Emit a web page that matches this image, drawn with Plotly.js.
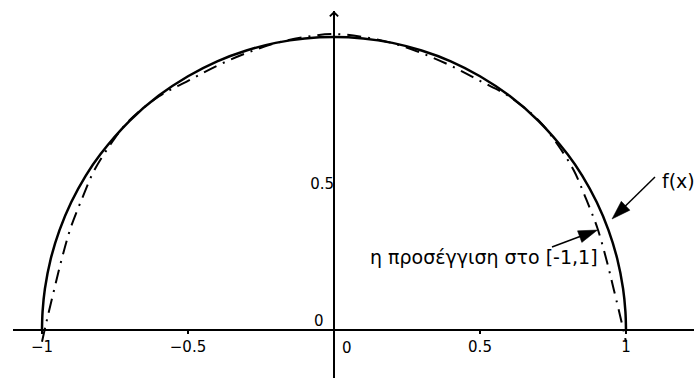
<!DOCTYPE html>
<html>
<head>
<meta charset="utf-8">
<script src="https://cdn.plot.ly/plotly-3.0.1.min.js"></script>
<style>
  html, body { margin: 0; padding: 0; background: #fff; }
  #chart { width: 694px; height: 378px; }
</style>
</head>
<body>
<div id="chart"></div>
<script>
// f(x): the upper unit semicircle
const circleX = [-1, -0.998, -0.99, -0.97, -0.94, -0.9, -0.85, -0.8, -0.7, -0.6, -0.5, -0.4, -0.3, -0.2, -0.1, 0,
                 0.1, 0.2, 0.3, 0.4, 0.5, 0.6, 0.7, 0.8, 0.85, 0.9, 0.94, 0.97, 0.99, 0.998, 1];
const circleY = [0, 0.063, 0.141, 0.243, 0.341, 0.436, 0.527, 0.6, 0.714, 0.8, 0.866, 0.917, 0.954, 0.98, 0.995, 1,
                 0.995, 0.98, 0.954, 0.917, 0.866, 0.8, 0.714, 0.6, 0.527, 0.436, 0.341, 0.243, 0.141, 0.063, 0];

// polynomial approximation on [-1,1]
const approxX = [-1, -0.984, -0.959, -0.933, -0.902, -0.863, -0.821, -0.765, -0.705, -0.6, -0.5, -0.4, -0.3, -0.2, -0.1, 0,
                 0.1, 0.2, 0.3, 0.4, 0.5, 0.6, 0.705, 0.765, 0.821, 0.863, 0.902, 0.933, 0.959, 0.984, 1];
const approxY = [-0.04, 0.031, 0.135, 0.24, 0.348, 0.448, 0.545, 0.634, 0.711, 0.797, 0.85, 0.902, 0.945, 0.979, 1.0, 1.01,
                 1.0, 0.979, 0.945, 0.902, 0.85, 0.797, 0.711, 0.634, 0.545, 0.448, 0.348, 0.24, 0.135, 0.031, -0.04];

// tick labels
const xTickVals = [-1, -0.5, 0.5, 1];
const xTickText = ['\u22121', '\u22120.5', '0.5', '1'];
const yTickVals = [0.5];
const yTickText = ['0.5'];

// callout labels
const curveLabel = 'f(x)';
const approxLabel = '\u03b7 \u03c0\u03c1\u03bf\u03c3\u03ad\u03b3\u03b3\u03b9\u03c3\u03b7 \u03c3\u03c4\u03bf [-1,1]';

const FONT = 'DejaVu Sans, Verdana, sans-serif';
const TICK_SIZE = 15;
const LABEL_SIZE = 19;

const traces = [
  {
    x: circleX, y: circleY, type: 'scatter', mode: 'lines',
    line: { color: '#000', width: 2.5, shape: 'spline', smoothing: 1 },
    hoverinfo: 'skip'
  },
  {
    x: approxX, y: approxY, type: 'scatter', mode: 'lines',
    line: { color: '#000', width: 2, shape: 'spline', smoothing: 1, dash: '14px,7px,2px,7px' },
    hoverinfo: 'skip'
  }
];

// pointer arrows from the labels to the curves
function pointer(tail, tip) {
  return {
    x: [tail[0], tip[0]], y: [tail[1], tip[1]], type: 'scatter', mode: 'lines+markers',
    line: { color: '#000', width: 1.5 },
    marker: { symbol: 'arrow', angleref: 'previous', size: [0, 20], color: '#000', opacity: 1,
              line: { width: 0.5, color: '#000' } },
    cliponaxis: false, hoverinfo: 'skip'
  };
}
traces.push(pointer([1.0993, 0.5222], [0.9521, 0.3788]));
traces.push(pointer([0.7466, 0.2833], [0.9024, 0.3413]));

const layout = {
  width: 694, height: 378,
  margin: { l: 13, r: 0, t: 11, b: 0 },
  paper_bgcolor: '#fff', plot_bgcolor: '#fff',
  showlegend: false,
  font: { family: FONT, size: TICK_SIZE, color: '#000' },
  xaxis: {
    range: [-1.0993, 1.2329], anchor: 'free', position: 0.1308,
    showgrid: false, showline: false,
    zeroline: true, zerolinecolor: '#000', zerolinewidth: 2,
    tickmode: 'array', tickvals: xTickVals, ticktext: xTickText,
    ticks: 'outside', ticklen: 3, tickwidth: 1.5, tickcolor: '#000',
    tickfont: { family: FONT, size: TICK_SIZE, color: '#000' }
  },
  yaxis: {
    range: [-0.1638, 1.0887], anchor: 'free', position: 0.4714,
    showgrid: false, showline: false,
    zeroline: true, zerolinecolor: '#000', zerolinewidth: 2,
    tickmode: 'array', tickvals: yTickVals, ticktext: yTickText,
    ticks: '', tickfont: { family: FONT, size: TICK_SIZE, color: '#000' }
  },
  annotations: [
    // arrow tip of the vertical axis
    { x: 0, y: 1.0887, xref: 'x', yref: 'y', showarrow: true, ax: 0, ay: 24,
      arrowhead: 4, arrowsize: 0.8, arrowwidth: 2, arrowcolor: '#000' },
    { x: 0, y: 0, xref: 'x', yref: 'y', text: '0', showarrow: false,
      xshift: 13.5, yshift: -17.5, font: { family: FONT, size: TICK_SIZE, color: '#000' } },
    { x: 0, y: 0, xref: 'x', yref: 'y', text: '0', showarrow: false,
      xshift: -15, yshift: 9.5, font: { family: FONT, size: TICK_SIZE, color: '#000' } },
    { x: 1.116, y: 0.51, xref: 'x', yref: 'y', text: curveLabel, showarrow: false,
      xanchor: 'left', yanchor: 'middle', font: { family: FONT, size: LABEL_SIZE, color: '#000' } },
    { x: 0.1164, y: 0.249, xref: 'x', yref: 'y', text: approxLabel, showarrow: false,
      xanchor: 'left', yanchor: 'middle', font: { family: FONT, size: LABEL_SIZE, color: '#000' } }
  ]
};

Plotly.newPlot('chart', traces, layout, { staticPlot: true, displayModeBar: false });
</script>
</body>
</html>
